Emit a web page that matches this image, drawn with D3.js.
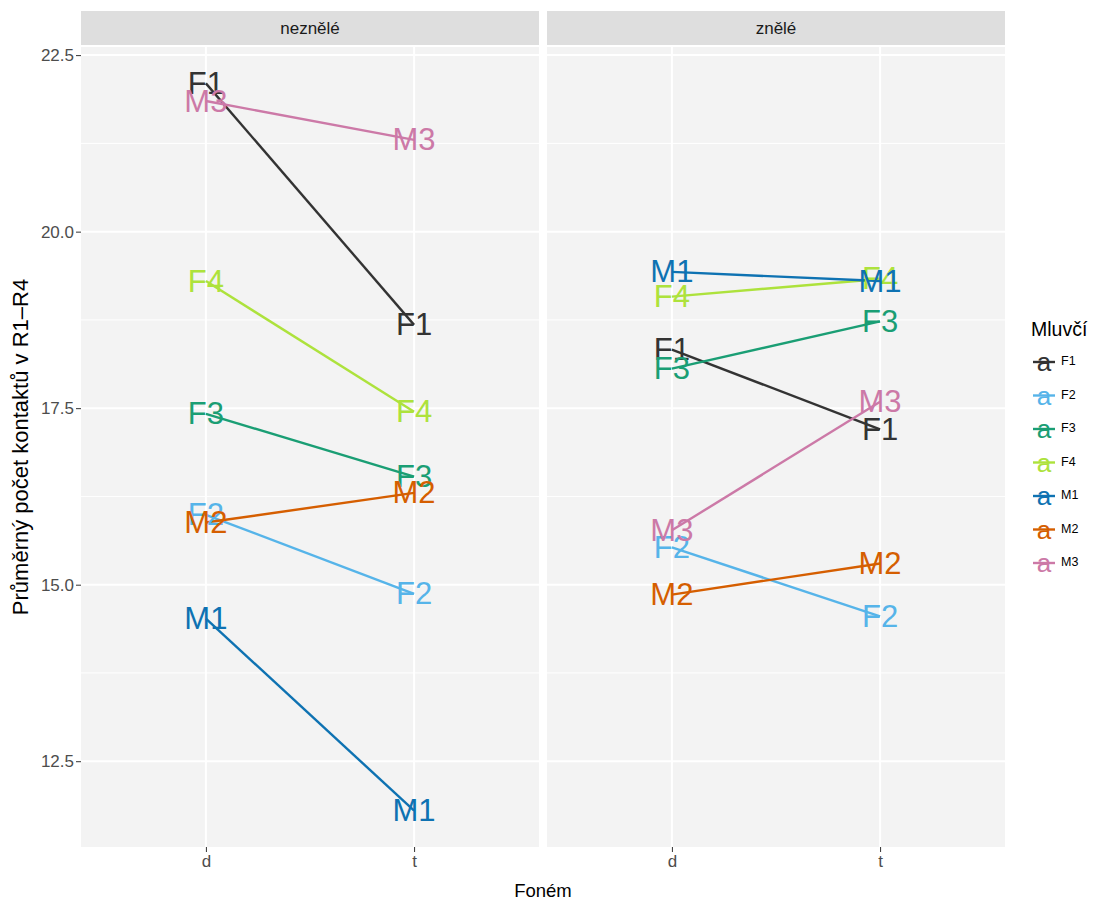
<!DOCTYPE html>
<html>
<head>
<meta charset="utf-8">
<script src="https://cdn.jsdelivr.net/npm/d3@7"></script>
<style>
  html, body { margin: 0; padding: 0; background: #ffffff; }
  svg { display: block; font-family: "Liberation Sans", Arial, sans-serif; }
</style>
</head>
<body>
<svg id="chart" width="1099" height="904"></svg>
<script>
// Speakers and their colours
const speakers = ["F1", "F2", "F3", "F4", "M1", "M2", "M3"];
const speakerColors = ["#333333", "#56B4E9", "#1A9E74", "#ADE23C", "#0E72B2", "#D55E00", "#CC79A7"];

// Facets (voicing) and x categories (phoneme)
const facets = ["neznělé", "znělé"];
const phonemes = ["d", "t"];

// Mean number of contacts per speaker, in speaker order
const neznele_d = [22.10, 15.99, 17.42, 19.30, 14.52, 15.88, 21.85];
const neznele_t = [18.68, 14.87, 16.53, 17.45, 11.80, 16.30, 21.30];
const znele_d   = [18.33, 15.53, 18.06, 19.08, 19.43, 14.86, 15.77];
const znele_t   = [17.20, 14.55, 18.73, 19.33, 19.30, 15.30, 17.59];

const yTicks = [12.5, 15.0, 17.5, 20.0, 22.5];
const yMinorTicks = [13.75, 16.25, 18.75, 21.25];

const yTitle = "Průměrný počet kontaktů v R1–R4";
const xTitle = "Foném";
const legendTitle = "Mluvčí";

// Build long-format rows
const facetValues = [[neznele_d, neznele_t], [znele_d, znele_t]];
const rows = [];
facets.forEach((f, fi) => {
  speakers.forEach((s, si) => {
    phonemes.forEach((p, pi) => {
      rows.push({ facet: f, speaker: s, phoneme: p, value: facetValues[fi][pi][si] });
    });
  });
});

const svg = d3.select("#chart");

// Layout
const panelTop = 47, panelBottom = 847;
const stripTop = 11, stripBottom = 45;
const panelLefts = [81, 547];
const panelWidth = 458;
const axisFont = 17;

// y scale with 5% expansion around the data range
const ext = d3.extent(rows, d => d.value);
const pad = (ext[1] - ext[0]) * 0.05;
const y = d3.scaleLinear().domain([ext[0] - pad, ext[1] + pad]).range([panelBottom, panelTop]);

const color = d3.scaleOrdinal().domain(speakers).range(speakerColors);

const panelBg = "#F3F3F3";
const stripBg = "#DEDEDE";

facets.forEach((f, fi) => {
  const left = panelLefts[fi];
  const x = d3.scalePoint().domain(phonemes).range([left, left + panelWidth]).padding(0.6);

  const g = svg.append("g");

  // strip
  g.append("rect")
    .attr("x", left).attr("y", stripTop)
    .attr("width", panelWidth).attr("height", stripBottom - stripTop)
    .attr("fill", stripBg);
  g.append("text")
    .attr("x", left + panelWidth / 2).attr("y", (stripTop + stripBottom) / 2)
    .attr("text-anchor", "middle").attr("dominant-baseline", "central")
    .attr("font-size", axisFont).attr("fill", "#1A1A1A")
    .text(f);

  // panel background
  g.append("rect")
    .attr("x", left).attr("y", panelTop)
    .attr("width", panelWidth).attr("height", panelBottom - panelTop)
    .attr("fill", panelBg);

  // grid lines
  g.selectAll("line.minor").data(yMinorTicks).join("line")
    .attr("x1", left).attr("x2", left + panelWidth)
    .attr("y1", d => y(d)).attr("y2", d => y(d))
    .attr("stroke", "#ffffff").attr("stroke-width", 1);
  g.selectAll("line.major").data(yTicks).join("line")
    .attr("x1", left).attr("x2", left + panelWidth)
    .attr("y1", d => y(d)).attr("y2", d => y(d))
    .attr("stroke", "#ffffff").attr("stroke-width", 2);
  g.selectAll("line.vmajor").data(phonemes).join("line")
    .attr("x1", d => x(d)).attr("x2", d => x(d))
    .attr("y1", panelTop).attr("y2", panelBottom)
    .attr("stroke", "#ffffff").attr("stroke-width", 2);

  // x axis
  const xAxis = d3.axisBottom(x).tickSize(5).tickPadding(3);
  const xg = g.append("g").attr("transform", `translate(0,${panelBottom})`).call(xAxis);
  xg.select(".domain").remove();
  xg.selectAll(".tick line").attr("stroke", "#333333").attr("stroke-width", 1);
  xg.selectAll(".tick text").attr("fill", "#4D4D4D").attr("font-size", axisFont)
    .attr("font-family", "Liberation Sans, Arial, sans-serif");

  // y axis on the first panel only
  if (fi === 0) {
    const yAxis = d3.axisLeft(y).tickValues(yTicks).tickFormat(d3.format(".1f")).tickSize(5).tickPadding(2);
    const yg = g.append("g").attr("transform", `translate(${left},0)`).call(yAxis);
    yg.select(".domain").remove();
    yg.selectAll(".tick line").attr("stroke", "#333333").attr("stroke-width", 1);
    yg.selectAll(".tick text").attr("fill", "#4D4D4D").attr("font-size", axisFont)
      .attr("font-family", "Liberation Sans, Arial, sans-serif");
  }

  const data = rows.filter(r => r.facet === f);
  const bySpeaker = d3.group(data, d => d.speaker);

  // lines
  const line = d3.line().x(d => x(d.phoneme)).y(d => y(d.value));
  g.selectAll("path.speaker").data(speakers).join("path")
    .attr("d", s => line(bySpeaker.get(s)))
    .attr("fill", "none")
    .attr("stroke", s => color(s))
    .attr("stroke-width", 2.4);

  // text labels
  g.selectAll("text.lbl").data(data).join("text")
    .attr("x", d => x(d.phoneme))
    .attr("y", d => y(d.value))
    .attr("text-anchor", "middle")
    .attr("dominant-baseline", "central")
    .attr("font-size", 31)
    .attr("fill", d => color(d.speaker))
    .text(d => d.speaker);
});

// axis titles
svg.append("text")
  .attr("x", (panelLefts[0] + panelLefts[1] + panelWidth) / 2)
  .attr("y", 890)
  .attr("text-anchor", "middle").attr("dominant-baseline", "central")
  .attr("font-size", 18.5).attr("fill", "#000000")
  .text(xTitle);

svg.append("text")
  .attr("transform", `translate(20,${(panelTop + panelBottom) / 2}) rotate(-90)`)
  .attr("text-anchor", "middle").attr("dominant-baseline", "central")
  .attr("font-size", 22).attr("fill", "#000000")
  .text(yTitle);

// legend
const legend = svg.append("g").attr("transform", "translate(1031,0)");
legend.append("text")
  .attr("x", 0).attr("y", 329)
  .attr("dominant-baseline", "central")
  .attr("font-size", 19.5).attr("fill", "#000000")
  .text(legendTitle);

const keyY = d3.scalePoint().domain(speakers).range([362, 563]);
const keys = legend.selectAll("g.key").data(speakers).join("g")
  .attr("transform", s => `translate(0,${keyY(s)})`);
keys.append("line")
  .attr("x1", 2).attr("x2", 24).attr("y1", 0).attr("y2", 0)
  .attr("stroke", s => color(s)).attr("stroke-width", 2.4);
keys.append("text")
  .attr("x", 13).attr("y", 0)
  .attr("text-anchor", "middle").attr("dominant-baseline", "central")
  .attr("font-size", 26).attr("fill", s => color(s))
  .text("a");
keys.append("text")
  .attr("x", 30).attr("y", -1)
  .attr("dominant-baseline", "central")
  .attr("font-size", 12.5).attr("fill", "#000000")
  .text(s => s);
</script>
</body>
</html>
